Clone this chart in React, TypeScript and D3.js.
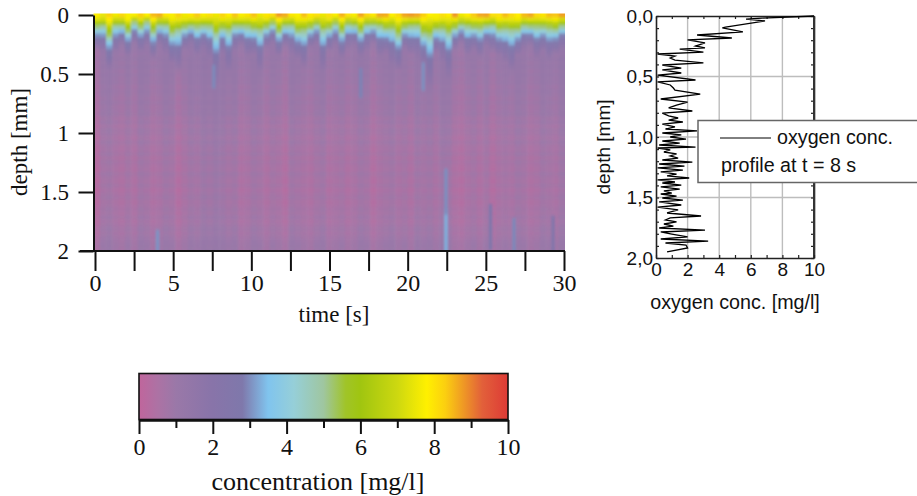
import { useEffect, useRef } from 'react'
import * as d3 from 'd3'

const WIDTH = 917
const HEIGHT = 496
const SERIF = '"Liberation Serif", serif'
const SANS = '"Liberation Sans", sans-serif'

// colour bar stops
const colorStops = [0, 0.5, 1, 2, 2.8, 3.5, 4.2, 5, 5.6, 6, 7, 7.8, 8.3, 9.3, 10]
const colorValues = ['#c0659c', '#ad72a4', '#9a78a8', '#8874a9', '#7f78ab', '#80c4ee', '#96cfd8', '#9fc6a0', '#a0c428', '#a0c510', '#cdd810', '#fff000', '#fbcf10', '#e2603a', '#dd3a36']

// concentration in the top row of each time column [mg/l]
const columnSurface = [8.1, 7.6, 8.5, 7.9, 8.7, 7.7, 8.2, 8.8, 8.3, 8.9, 9.5, 8.4, 7.8, 8.7, 7.6, 8.2, 8.9, 7.9, 8.5, 7.7, 8.6, 8.1, 9.0, 7.8, 8.4, 8.9, 7.7, 8.2, 8.7, 9.3, 9.4, 8.4, 7.8, 8.9, 8.1, 8.6, 7.7, 8.4, 8.1, 9.0, 8.6, 7.9, 9.2, 8.8, 8.3, 9.4, 9.2, 8.1, 8.4, 9.4, 9.6, 9.4, 8.6, 8.0, 7.8, 8.4, 8.1, 9.5, 7.7, 8.2, 8.8, 9.3, 9.5, 8.6, 8.3, 9.0, 8.5, 8.0, 9.2, 9.4, 8.6, 8.3, 9.0, 8.8, 9.6]

// depth where each column has dropped to the bulk value [mm]
const columnFront = [0.3, 0.33, 0.46, 0.34, 0.27, 0.36, 0.26, 0.32, 0.28, 0.38, 0.27, 0.33, 0.42, 0.5, 0.3, 0.26, 0.36, 0.29, 0.38, 0.6, 0.33, 0.5, 0.3, 0.27, 0.37, 0.34, 0.5, 0.29, 0.26, 0.36, 0.28, 0.34, 0.38, 0.46, 0.29, 0.26, 0.5, 0.32, 0.27, 0.37, 0.3, 0.27, 0.36, 0.31, 0.26, 0.38, 0.33, 0.44, 0.48, 0.29, 0.35, 0.37, 0.44, 0.66, 0.33, 0.4, 0.56, 0.3, 0.26, 0.36, 0.3, 0.38, 0.27, 0.33, 0.36, 0.41, 0.5, 0.35, 0.29, 0.27, 0.38, 0.31, 0.39, 0.34, 0.29]

// how far the transition zone of each column runs above or below the mean [mg/l]
const columnMid = [0.4, -0.5, 0.8, -0.9, 0.3, 0.9, -0.6, 0.2, -1.0, 0.7, 0.1, -0.7, 0.5, -1.1, 0.6, 0.9, -0.4, 0.3, -0.8, -1.2, 0.5, -0.9, 0.2, 0.8, -0.6, 0.4, -1.0, 0.7, -0.2, 0.9, 0.3, -0.8, 0.6, -0.5, 0.9, 0.1, -1.1, 0.5, -0.3, 0.8, -0.7, 0.4, 0.9, -0.6, 0.2, -0.9, 0.6, -1.0, 0.3, 0.8, -0.5, -0.8, 0.4, -1.2, 0.7, -0.4, -1.0, 0.9, 0.2, -0.6, 0.7, -0.3, 0.8, -0.8, 0.4, -0.5, -1.0, 0.6, 0.1, 0.9, -0.7, 0.3, -0.4, 0.7, 0.2]

// slow vertical banding per column [mg/l]
const columnBulk = [-0.3, 0.1, 0.2, 0, -0.1, 0.1, -0.1, 0.2, 0.1, -0.1, 0, 0.2, 0.1, -0.2, 0, 0.2, 0.1, 0.3, 0.2, 0.35, 0.25, 0.1, 0.2, -0.1, 0, 0.2, 0.1, -0.1, 0.1, 0, -0.2, 0.2, 0.1, 0, -0.1, 0.1, 0.2, -0.1, 0, 0.1, -0.1, 0, 0.2, 0.1, -0.2, 0, 0.1, 0.2, 0, 0.1, -0.1, 0.2, 0.1, 0.2, 0, 0.25, 0.2, -0.1, -0.2, 0, 0.1, -0.1, 0.1, -0.2, 0, 0.1, 0, 0.2, 0.1, -0.1, 0, 0.2, 0.1, 0, 0.25]

// mean bulk concentration per depth row, 0 to 2 mm [mg/l]
const rowBulk = [1.3, 1.3, 1.25, 1.25, 1.2, 1.2, 1.2, 1.15, 1.2, 1.1, 1.05, 1.15, 1.0, 1.1, 0.95, 1.05, 0.95, 1.0, 0.85, 0.95, 0.9, 0.8, 0.95, 0.8, 0.85, 0.9, 0.7, 0.85, 0.65, 0.8, 0.75, 0.6, 0.8, 0.65, 0.6, 0.75, 0.55, 0.7, 0.6, 0.55, 0.75, 0.6, 0.55, 0.7, 0.5, 0.6, 0.7, 0.55, 0.6, 0.7, 0.6, 0.75, 0.6, 0.7, 0.8, 0.7, 0.8, 0.85, 0.9, 0.85]

// mean transition shape: fraction of the front depth and the concentration there
const frontFraction = [0.15, 0.3, 0.42, 0.58, 0.75]
const frontConc = [7.3, 5.6, 4.6, 3.05, 2.3]
const frontSpread = [0.4, 0.6, 0.7, 0.3, 0.3]

// thin isolated plumes: time, depth from, depth to, concentration
const plumeTime = [22.45, 22.45, 4.0, 26.8, 25.3, 21.0, 17.0, 7.6, 29.3]
const plumeFrom = [1.65, 1.3, 1.82, 1.72, 1.6, 0.4, 0.45, 0.42, 1.7]
const plumeTo = [2.0, 1.65, 2.0, 2.0, 1.95, 0.6, 0.66, 0.58, 2.0]
const plumeConc = [3.3, 3.0, 3.05, 2.95, 2.6, 3.0, 2.9, 2.95, 2.4]

const timeTicks = d3.range(0, 30.1, 2.5)
const timeLabels = [0, 5, 10, 15, 20, 25, 30]
const depthTicks = [0, 0.5, 1, 1.5, 2]
const concTicks = [0, 2, 4, 6, 8, 10]
const concMinor = [1, 3, 5, 7, 9]

// oxygen profile at t = 8 s
const profileDepth = [0, 0.017, 0.025, 0.041, 0.091, 0.099, 0.132, 0.157, 0.182, 0.198, 0.223, 0.248, 0.264, 0.273, 0.298, 0.314, 0.331, 0.347, 0.364, 0.388, 0.405, 0.43, 0.446, 0.471, 0.488, 0.529, 0.545, 0.57, 0.595, 0.612, 0.645, 0.686, 0.711, 0.736, 0.76, 0.785, 0.802, 0.826, 0.843, 0.86, 0.876, 0.893, 0.917, 0.934, 0.95, 0.967, 0.983, 1.0, 1.017, 1.033, 1.05, 1.066, 1.083, 1.091, 1.107, 1.124, 1.14, 1.157, 1.174, 1.19, 1.207, 1.223, 1.24, 1.256, 1.273, 1.289, 1.306, 1.322, 1.339, 1.355, 1.372, 1.38, 1.397, 1.413, 1.43, 1.446, 1.463, 1.471, 1.488, 1.504, 1.521, 1.537, 1.562, 1.579, 1.603, 1.628, 1.653, 1.669, 1.686, 1.702, 1.719, 1.736, 1.752, 1.769, 1.785, 1.802, 1.826, 1.843, 1.86, 1.876, 1.893, 1.917, 1.95]
const profileConc = [10, 6.7, 5.7, 6.9, 4.4, 4.2, 5.5, 2.6, 4.8, 2.0, 3.1, 2.5, 3.1, 1.5, 3.0, 0.1, 1.2, 0.9, 1.2, 3.0, 0.4, 1.6, 0.4, 1.6, 0.1, 2.5, 0.1, 0.9, 1.1, 1.2, 2.8, 0.3, 2.0, 1.3, 0.8, 2.3, 0.4, 0.8, 1.4, 0.8, 1.7, 0.4, 1.2, 0.6, 2.6, 0.4, 1.6, 0.9, 1.9, 0.4, 1.5, 0.2, 2.5, 0.1, 0.9, 0.5, 1.3, 0.9, 1.4, 0.4, 2.3, 0.2, 1.8, 0.1, 1.7, 0.3, 1.3, 0.7, 2.1, 0.1, 1.2, 0.4, 1.6, 0.3, 1.5, 0.5, 1.0, 0.3, 1.3, 0.4, 1.7, 0.2, 1.6, 0.1, 1.4, 0.7, 2.85, 0.9, 0.6, 1.3, 0.5, 1.1, 0.2, 3.1, 0.3, 1.0, 2.0, 0.3, 3.3, 0.6, 1.9, 2.0, 0.7]
const profileTicks = [0, 2, 4, 6, 8, 10]
const profileDepthLabels = ['0,0', '0,5', '1,0', '1,5', '2,0']

export default function App() {
  const ref = useRef<SVGSVGElement>(null)

  useEffect(() => {
    const svg = d3.select(ref.current)
    svg.selectAll('*').remove()

    const color = d3.scaleLinear<string>().domain(colorStops).range(colorValues).clamp(true)

    // ---- heat map ----
    const x = d3.scaleLinear().domain([0, 30]).range([95, 564])
    const y = d3.scaleLinear().domain([0, 2]).range([15, 251])
    const colBand = d3.scaleBand<number>().domain(d3.range(columnSurface.length)).range([93.5, 565])
    const rowBand = d3.scaleBand<number>().domain(d3.range(rowBulk.length)).range([13.5, 251])

    const defs = svg.append('defs')
    defs.append('clipPath').attr('id', 'plot-clip').append('rect')
      .attr('x', colBand.range()[0]).attr('y', rowBand.range()[0])
      .attr('width', colBand.range()[1] - colBand.range()[0])
      .attr('height', rowBand.range()[1] - rowBand.range()[0])
    const blur = defs.append('filter').attr('id', 'soft')
      .attr('x', '-2%').attr('y', '-4%').attr('width', '104%').attr('height', '108%')
    blur.append('feGaussianBlur').attr('stdDeviation', '1.2 1.4')

    const cellValue = (c: number, r: number) => {
      const depth = (r + 0.5) * 2 / rowBulk.length
      const front = columnFront[c]
      const m = columnMid[c]
      const scale = d3.scaleLinear()
        .domain([0, ...frontFraction.map(f => f * front), front])
        .range([columnSurface[c], ...frontConc.map((v, i) => v + m * frontSpread[i]), rowBulk[r] + columnBulk[c]])
        .clamp(true)
      return scale(depth)
    }

    const bleed = 5 // cells at the rim overshoot so the blur doesn't fade at the clip
    const cells = rowBulk.flatMap((_, r) => columnSurface.map((_, c) => ({ r, c })))
    const heat = svg.append('g').attr('clip-path', 'url(#plot-clip)')
      .append('g').attr('filter', 'url(#soft)')
    heat.selectAll('rect.cell')
      .data(cells)
      .enter()
      .append('rect')
      .attr('class', 'cell')
      .attr('x', d => colBand(d.c)! - (d.c === 0 ? bleed : 0))
      .attr('y', d => rowBand(d.r)! - (d.r === 0 ? bleed : 0))
      .attr('width', d => colBand.bandwidth() + 0.5 + (d.c === 0 || d.c === columnSurface.length - 1 ? bleed : 0))
      .attr('height', d => rowBand.bandwidth() + 0.5 + (d.r === 0 || d.r === rowBulk.length - 1 ? bleed : 0))
      .attr('fill', d => color(cellValue(d.c, d.r)))
    heat.selectAll('rect.plume')
      .data(plumeTime)
      .enter()
      .append('rect')
      .attr('class', 'plume')
      .attr('x', d => x(d) - 1.75)
      .attr('width', 3.5)
      .attr('y', (_, i) => y(plumeFrom[i]))
      .attr('height', (_, i) => y(plumeTo[i]) - y(plumeFrom[i]) + bleed)
      .attr('fill', (_, i) => color(plumeConc[i]))

    const styleAxis = (g: any, font: string, size: number, width: number) => {
      g.selectAll('text').attr('font-family', font).attr('font-size', size).attr('fill', '#111')
      g.selectAll('line').attr('stroke', '#111').attr('stroke-width', width)
      g.selectAll('path').attr('stroke', '#111').attr('stroke-width', width)
    }

    const axisX = svg.append('g').attr('transform', 'translate(0,251)')
      .call(d3.axisBottom(x).tickValues(timeTicks).tickSize(20).tickSizeOuter(0)
        .tickFormat(d => (timeLabels.includes(+d) ? String(d) : '')))
    styleAxis(axisX, SERIF, 24, 2)
    axisX.select('path').attr('d', 'M80,0H565')
    axisX.selectAll('text').attr('y', 40).attr('dy', 0)

    const axisY = svg.append('g').attr('transform', 'translate(93.5,0)')
      .call(d3.axisLeft(y).tickValues(depthTicks).tickSize(15).tickSizeOuter(0).tickFormat(d => String(d)))
    styleAxis(axisY, SERIF, 23, 2)
    axisY.selectAll('text').attr('x', -24.5).attr('dy', '0.32em')

    svg.append('text').attr('transform', 'translate(27,142) rotate(-90)')
      .attr('text-anchor', 'middle').attr('font-family', SERIF).attr('font-size', 23).attr('fill', '#111')
      .text('depth [mm]')
    svg.append('text').attr('x', 334).attr('y', 322)
      .attr('text-anchor', 'middle').attr('font-family', SERIF).attr('font-size', 23).attr('fill', '#111')
      .text('time [s]')

    // ---- colour bar ----
    const cx = d3.scaleLinear().domain([0, 10]).range([139, 508])
    const grad = defs.append('linearGradient').attr('id', 'bar-gradient')
    colorStops.forEach((s, i) => {
      grad.append('stop').attr('offset', `${s * 10}%`).attr('stop-color', colorValues[i])
    })
    svg.append('rect').attr('x', cx(0)).attr('y', 373.5).attr('width', cx(10) - cx(0)).attr('height', 46)
      .attr('fill', 'url(#bar-gradient)').attr('stroke', '#111').attr('stroke-width', 1.6)

    const axisC = svg.append('g').attr('transform', 'translate(0,420)')
      .call(d3.axisBottom(cx).tickValues(concTicks).tickSize(14).tickSizeOuter(0).tickFormat(d => String(d)))
    styleAxis(axisC, SERIF, 24, 2)
    axisC.selectAll('text').attr('y', 35).attr('dy', 0)
    const axisC2 = svg.append('g').attr('transform', 'translate(0,420)')
      .call(d3.axisBottom(cx).tickValues(concMinor).tickSize(8).tickSizeOuter(0).tickFormat(() => ''))
    styleAxis(axisC2, SERIF, 22, 2)

    svg.append('text').attr('x', 318).attr('y', 490)
      .attr('text-anchor', 'middle').attr('font-family', SERIF).attr('font-size', 26).attr('fill', '#111')
      .text('concentration [mg/l]')

    // ---- profile panel ----
    const px = d3.scaleLinear().domain([0, 10]).range([656, 814])
    const py = d3.scaleLinear().domain([0, 2]).range([16, 258])

    const grid = svg.append('g').attr('stroke', '#bdbdbd').attr('stroke-width', 1.4)
    grid.selectAll('line.v').data([2, 4, 6, 8]).enter().append('line').attr('class', 'v')
      .attr('x1', d => px(d)).attr('x2', d => px(d)).attr('y1', py(0)).attr('y2', py(2))
    grid.selectAll('line.h').data([0.5, 1, 1.5]).enter().append('line').attr('class', 'h')
      .attr('x1', px(0)).attr('x2', px(10)).attr('y1', d => py(d)).attr('y2', d => py(d))

    const inner = (g: any) => {
      g.selectAll('line').attr('stroke', '#222').attr('stroke-width', 1.2)
      g.selectAll('path').attr('stroke', '#222').attr('stroke-width', 1.6)
      g.selectAll('text').remove()
    }
    const depthMinor = d3.range(0, 2.01, 0.1)
    svg.append('g').attr('transform', 'translate(0,16)').call(d3.axisBottom(px).ticks(10).tickSize(3).tickSizeOuter(0)).call(inner)
    svg.append('g').attr('transform', 'translate(656,0)').call(d3.axisRight(py).tickValues(depthMinor).tickSize(3).tickSizeOuter(0)).call(inner)
    svg.append('g').attr('transform', 'translate(814,0)').call(d3.axisLeft(py).tickValues(depthMinor).tickSize(3).tickSizeOuter(0)).call(inner)
    svg.append('line').attr('x1', 814).attr('x2', 814).attr('y1', 16).attr('y2', 258).attr('stroke', '#333').attr('stroke-width', 2)

    const bottom = svg.append('g').attr('transform', 'translate(0,258)')
      .call(d3.axisTop(px).ticks(10).tickSize(3).tickSizeOuter(0).tickFormat(() => ''))
    inner(bottom)
    const bottomLabels = svg.append('g').attr('transform', 'translate(0,258)')
      .call(d3.axisBottom(px).tickValues(profileTicks).tickSize(0).tickFormat(d => String(d)))
    bottomLabels.select('path').remove()
    bottomLabels.selectAll('text').attr('font-family', SANS).attr('font-size', 19).attr('fill', '#111').attr('y', 18).attr('dy', 0)

    const leftLabels = svg.append('g').attr('transform', 'translate(656,0)')
      .call(d3.axisLeft(py).tickValues(depthTicks).tickSize(0)
        .tickFormat((_, i) => profileDepthLabels[i]))
    leftLabels.select('path').remove()
    leftLabels.selectAll('text').attr('font-family', SANS).attr('font-size', 19).attr('fill', '#111').attr('x', -3)

    const line = d3.line<number>().x(d => px(d)).y((_, i) => py(profileDepth[i]))
    svg.append('path').attr('d', line(profileConc)).attr('fill', 'none').attr('stroke', '#000').attr('stroke-width', 1.3)

    svg.append('text').attr('transform', 'translate(610,147) rotate(-90)')
      .attr('text-anchor', 'middle').attr('font-family', SANS).attr('font-size', 19).attr('fill', '#111')
      .text('depth [mm]')
    svg.append('text').attr('x', 735).attr('y', 309)
      .attr('text-anchor', 'middle').attr('font-family', SANS).attr('font-size', 19.7).attr('fill', '#111')
      .text('oxygen conc. [mg/l]')

    // legend box
    const legend = svg.append('g')
    legend.append('rect').attr('x', 698).attr('y', 120.5).attr('width', 230).attr('height', 62)
      .attr('fill', '#fff').attr('stroke', '#666').attr('stroke-width', 1.5)
    legend.append('line').attr('x1', 720).attr('x2', 771).attr('y1', 138).attr('y2', 138)
      .attr('stroke', '#000').attr('stroke-width', 1)
    legend.append('text').attr('x', 777).attr('y', 144)
      .attr('font-family', SANS).attr('font-size', 19.7).attr('fill', '#111').text('oxygen conc.')
    legend.append('text').attr('x', 721).attr('y', 172)
      .attr('font-family', SANS).attr('font-size', 19.7).attr('fill', '#111').text('profile at t = 8 s')
  }, [])

  return (
    <svg
      ref={ref}
      width={WIDTH}
      height={HEIGHT}
      style={{ position: 'absolute', left: 0, top: 0, background: '#fff' }}
    />
  )
}
